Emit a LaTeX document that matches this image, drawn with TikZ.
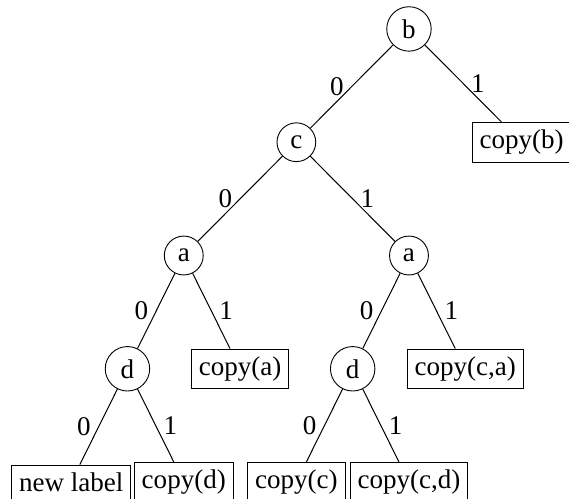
\documentclass[tikz,border=0pt]{standalone}
\usepackage{fontspec}
\setmainfont{Liberation Serif}
\usetikzlibrary{positioning}

\begin{document}
\begin{tikzpicture}[
  x=50pt, y=50.3pt,
  font=\fontsize{12}{14}\selectfont,
  vertex/.style={
    circle,
    draw
  },
  leaf/.style={
    rectangle,
    draw
  },
  edge/.style={line width=0.45pt}
]
\useasboundingbox (-3.632, 0.2555) rectangle (1.421, -4.149);

% Nodos internos
\node[vertex] (b)  at (0, 0)     {b};
\node[vertex] (c)  at (-1, -1)   {c};
\node[vertex] (al) at (-2, -2)   {a};
\node[vertex] (ar) at (0, -2)    {a};
\node[vertex] (dl) at (-2.5, -3) {d};
\node[vertex] (dr) at (-0.5, -3) {d};

% Hojas
\node[leaf] (cb)  at (1, -1)    {copy(b)};
\node[leaf] (ca)  at (-1.5, -3) {copy(a)};
\node[leaf] (cca) at (0.5, -3)  {copy(c,a)};
\node[leaf] (nl)  at (-3, -4)   {new label};
\node[leaf] (cd)  at (-2, -4)   {copy(d)};
\node[leaf] (cc)  at (-1, -4)   {copy(c)};
\node[leaf] (ccd) at (0, -4)    {copy(c,d)};

% Aristas
\draw[edge] (b)  -- node[left]{0} (c);
\draw[edge] (b)  -- node[right]{1} (cb);
\draw[edge] (c)  -- node[left]{0} (al);
\draw[edge] (c)  -- node[right]{1} (ar);
\draw[edge] (al) -- node[left]{0} (dl);
\draw[edge] (al) -- node[right]{1} (ca);
\draw[edge] (ar) -- node[left]{0} (dr);
\draw[edge] (ar) -- node[right]{1} (cca);
\draw[edge] (dl) -- node[left]{0} (nl);
\draw[edge] (dl) -- node[right]{1} (cd);
\draw[edge] (dr) -- node[left]{0} (cc);
\draw[edge] (dr) -- node[right]{1} (ccd);

\end{tikzpicture}
\end{document}
